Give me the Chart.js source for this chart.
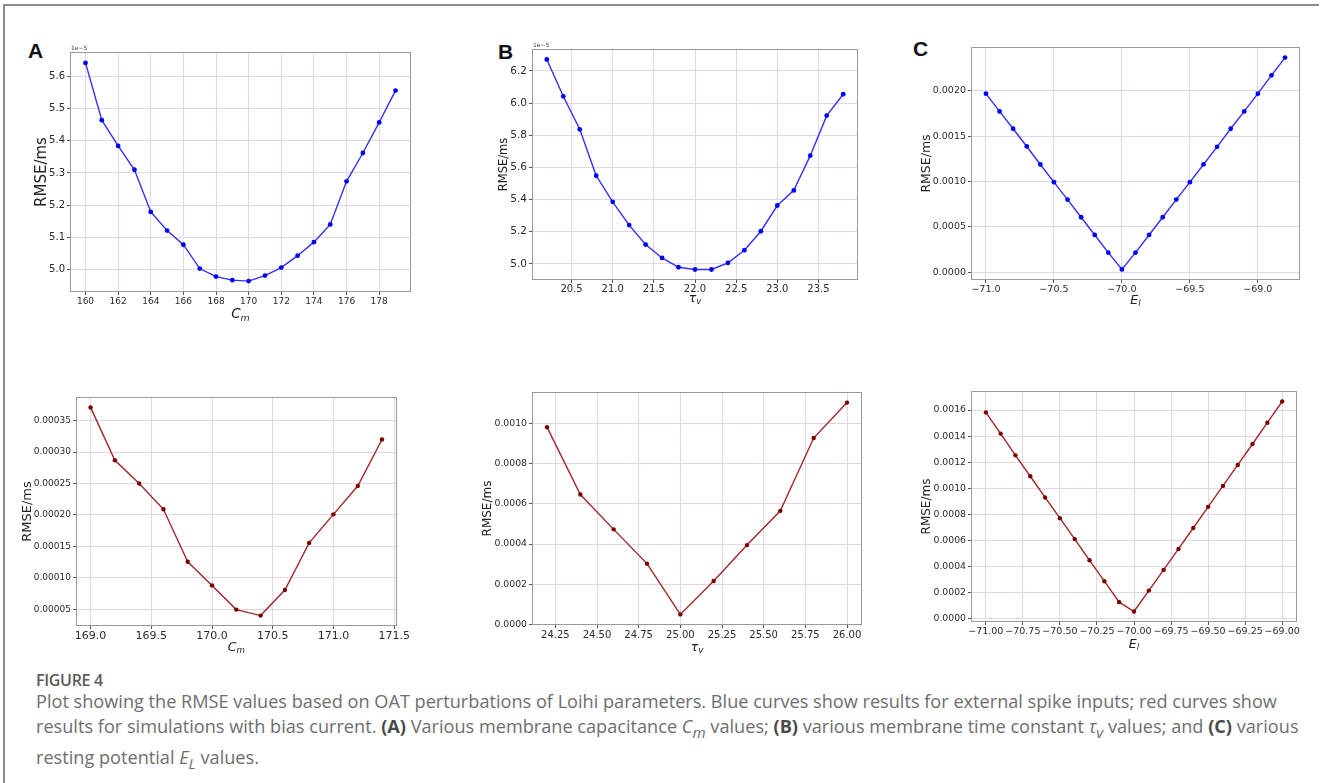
<!DOCTYPE html>
<html>
<head>
<meta charset="utf-8">
<script src="https://cdn.jsdelivr.net/npm/chart.js@4.4.0/dist/chart.umd.min.js"></script>
<style>
  body { margin: 0; width: 1326px; height: 783px; position: relative; overflow: hidden; background: #fff; }
  .frame { position: absolute; left: 3px; top: 4px; width: 1314px; height: 800px; border-top: 2px solid #8c8c8c; border-left: 2px solid #8c8c8c; }
  canvas { position: absolute; }
  .letter { position: absolute; font: bold 21px "Liberation Sans", Arial, sans-serif; line-height: 1; color: #111; }
  .fig { position: absolute; left: 36px; top: 670px; font: 600 16px "Open Sans", sans-serif; color: #5a5a5a; line-height: 20px; letter-spacing: -0.3px; }
  .cap { position: absolute; left: 36px; top: 689px; font: 18.15px "Open Sans", sans-serif; color: #6e6e6e; line-height: 25px; white-space: nowrap; }
  .cap b { color: #4a4a4a; }
</style>
</head>
<body>
<div class="frame"></div>
<div class="letter" style="left:28px;top:40px">A</div>
<div class="letter" style="left:498px;top:41px">B</div>
<div class="letter" style="left:913px;top:38px">C</div>

<canvas id="topCm"></canvas>
<canvas id="topTau"></canvas>
<canvas id="topEl"></canvas>
<canvas id="botCm"></canvas>
<canvas id="botTau"></canvas>
<canvas id="botEl"></canvas>

<div class="fig">FIGURE 4</div>
<div class="cap">Plot showing the RMSE values based on OAT perturbations of Loihi parameters. Blue curves show results for external spike inputs; red curves show<br>results for simulations with bias current. <b>(A)</b> Various membrane capacitance <i>C<sub>m</sub></i> values; <b>(B)</b> various membrane time constant <i>τ<sub>v</sub></i> values; and <b>(C)</b> various<br>resting potential <i>E<sub>L</sub></i> values.</div>

<script>
// --- top row : external spike inputs (blue) ---
// C_m, RMSE in units of 1e-5
const cmTopX = [160, 161, 162, 163, 164, 165, 166, 167, 168, 169, 170, 171, 172, 173, 174, 175, 176, 177, 178, 179];
const cmTopRmse = [5.642, 5.464, 5.384, 5.310, 5.179, 5.121, 5.077, 5.003, 4.978, 4.967, 4.964, 4.981, 5.006, 5.043, 5.085, 5.140, 5.274, 5.362, 5.457, 5.556];
const cmTopXTicks = [160, 162, 164, 166, 168, 170, 172, 174, 176, 178];
const cmTopYTicks = [5.0, 5.1, 5.2, 5.3, 5.4, 5.5, 5.6];

// tau_v, RMSE in units of 1e-5
const tauTopX = [20.2, 20.4, 20.6, 20.8, 21.0, 21.2, 21.4, 21.6, 21.8, 22.0, 22.2, 22.4, 22.6, 22.8, 23.0, 23.2, 23.4, 23.6, 23.8];
const tauTopRmse = [6.271, 6.042, 5.837, 5.548, 5.386, 5.241, 5.120, 5.037, 4.979, 4.965, 4.965, 5.006, 5.085, 5.203, 5.363, 5.457, 5.673, 5.922, 6.055];
const tauTopXTicks = [20.5, 21.0, 21.5, 22.0, 22.5, 23.0, 23.5];
const tauTopYTicks = [5.0, 5.2, 5.4, 5.6, 5.8, 6.0, 6.2];

// E_l
const elTopX = [-71.0, -70.9, -70.8, -70.7, -70.6, -70.5, -70.4, -70.3, -70.2, -70.1, -70.0, -69.9, -69.8, -69.7, -69.6, -69.5, -69.4, -69.3, -69.2, -69.1, -69.0, -68.9, -68.8];
const elTopRmse = [0.001967, 0.001772, 0.001581, 0.001386, 0.001188, 0.000993, 0.000801, 0.000607, 0.000412, 0.000217, 0.000033, 0.000217, 0.000412, 0.000607, 0.000801, 0.000993, 0.001188, 0.001382, 0.001581, 0.001772, 0.001967, 0.002169, 0.002364];
const elTopXTicks = [-71.0, -70.5, -70.0, -69.5, -69.0];
const elTopYTicks = [0, 0.0005, 0.0010, 0.0015, 0.0020];

// --- bottom row : bias current (red) ---
const cmBotX = [169.0, 169.2, 169.4, 169.6, 169.8, 170.0, 170.2, 170.4, 170.6, 170.8, 171.0, 171.2, 171.4];
const cmBotRmse = [0.000371, 0.000287, 0.000250, 0.000209, 0.0001255, 0.000088, 0.0000495, 0.000040, 0.0000806, 0.0001556, 0.000201, 0.000246, 0.000320];
const cmBotXTicks = [169.0, 169.5, 170.0, 170.5, 171.0, 171.5];
const cmBotYTicks = [0.00005, 0.00010, 0.00015, 0.00020, 0.00025, 0.00030, 0.00035];

const tauBotX = [24.2, 24.4, 24.6, 24.8, 25.0, 25.2, 25.4, 25.6, 25.8, 26.0];
const tauBotRmse = [0.000980, 0.000646, 0.000473, 0.000303, 0.0000511, 0.000217, 0.000395, 0.000565, 0.000926, 0.001102];
const tauBotXTicks = [24.25, 24.50, 24.75, 25.00, 25.25, 25.50, 25.75, 26.00];
const tauBotYTicks = [0, 0.0002, 0.0004, 0.0006, 0.0008, 0.0010];

const elBotX = [-71.0, -70.9, -70.8, -70.7, -70.6, -70.5, -70.4, -70.3, -70.2, -70.1, -70.0, -69.9, -69.8, -69.7, -69.6, -69.5, -69.4, -69.3, -69.2, -69.1, -69.0];
const elBotRmse = [0.001582, 0.001419, 0.001252, 0.001091, 0.000928, 0.000769, 0.000608, 0.000445, 0.000284, 0.000123, 0.0000511, 0.000212, 0.000371, 0.000532, 0.000693, 0.000856, 0.001017, 0.001178, 0.001339, 0.001503, 0.001666];
const elBotXTicks = [-71.00, -70.75, -70.50, -70.25, -70.00, -69.75, -69.50, -69.25, -69.00];
const elBotYTicks = [0, 0.0002, 0.0004, 0.0006, 0.0008, 0.0010, 0.0012, 0.0014, 0.0016];

const BLUE = { line: '#3030ff', point: '#0000ff' };
const RED = { line: '#a02828', point: '#7a0000' };

const PAD_L = 75, PAD_T = 14, PAD_R = 12, PAD_B = 40;
const TICK_LEN = 3, Y_PAD = 2;
const FONT = '"DejaVu Sans", sans-serif';

// number like matplotlib, with a real minus sign
function fmt(v, dec) {
  return v.toFixed(dec).replace('-', '\u2212');
}

// frame, axis titles (with subscript) and the 1e-5 offset
const decor = {
  id: 'decor',
  afterDraw(chart, args, o) {
    const ctx = chart.ctx;
    const a = chart.chartArea;
    ctx.save();
    ctx.strokeStyle = '#9a9a9a';
    ctx.lineWidth = 1;
    ctx.strokeRect(Math.round(a.left) + 0.5, Math.round(a.top) + 0.5, Math.round(a.right - a.left) - 1, Math.round(a.bottom - a.top) - 1);

    // y title sits just left of the widest tick label
    const ys = chart.scales.y;
    ctx.font = ys.options.ticks.font.size + 'px ' + FONT;
    let maxW = 0;
    ys.ticks.forEach(t => { maxW = Math.max(maxW, ctx.measureText(t.label).width); });
    const baseX = a.left - TICK_LEN - Y_PAD - maxW - o.yGap;

    ctx.fillStyle = '#222';
    ctx.save();
    ctx.font = o.ySize + 'px ' + FONT;
    ctx.textAlign = 'center';
    ctx.textBaseline = 'alphabetic';
    ctx.translate(baseX, (a.top + a.bottom) / 2);
    ctx.rotate(-Math.PI / 2);
    ctx.fillText('RMSE/ms', 0, 0);
    ctx.restore();

    ctx.textAlign = 'left';
    ctx.textBaseline = 'alphabetic';
    const big = 'italic ' + o.xSize + 'px ' + FONT;
    const small = 'italic ' + (o.xSize * 0.7) + 'px ' + FONT;
    ctx.font = big;
    const wb = ctx.measureText(o.xBase).width;
    ctx.font = small;
    const ws = ctx.measureText(o.xSub).width;
    const x0 = (a.left + a.right) / 2 - (wb + ws) / 2;
    const base = a.bottom + o.xOff + o.xSize * 0.36;
    ctx.font = big;
    ctx.fillText(o.xBase, x0, base);
    ctx.font = small;
    ctx.fillText(o.xSub, x0 + wb, base + o.xSize * 0.22);

    if (o.offset) {
      ctx.fillStyle = '#444';
      ctx.font = o.offsetSize + 'px ' + FONT;
      ctx.fillText(o.offset, a.left + 1, a.top - 2);
    }
    ctx.restore();
  }
};

function padRange(vals) {
  const lo = Math.min(...vals), hi = Math.max(...vals);
  const m = (hi - lo) * 0.05;
  return [lo - m, hi + m];
}

function makePanel(id, rect, xs, ys, xTicks, xDec, yTicks, yDec, colors, p) {
  const canvas = document.getElementById(id);
  canvas.width = rect.R - rect.L + PAD_L + PAD_R;
  canvas.height = rect.B - rect.T + PAD_T + PAD_B;
  canvas.style.left = (rect.L - PAD_L) + 'px';
  canvas.style.top = (rect.T - PAD_T) + 'px';

  const xr = padRange(xs), yr = padRange(ys);
  const grid = { color: '#e3d6e6', lineWidth: 1, tickLength: TICK_LEN, tickColor: '#555' };

  return new Chart(canvas.getContext('2d'), {
    type: 'scatter',
    data: {
      datasets: [{
        data: xs.map((x, i) => ({ x: x, y: ys[i] })),
        showLine: true,
        borderColor: colors.line,
        borderWidth: 1.4,
        backgroundColor: colors.point,
        pointBackgroundColor: colors.point,
        pointBorderWidth: 0,
        pointRadius: p.r,
      }]
    },
    plugins: [decor],
    options: {
      responsive: false,
      animation: false,
      layout: { padding: { top: PAD_T, right: PAD_R, left: 0, bottom: 0 } },
      scales: {
        x: {
          type: 'linear',
          min: xr[0], max: xr[1],
          grid: grid,
          border: { display: false },
          afterBuildTicks: s => { s.ticks = xTicks.map(v => ({ value: v })); },
          afterFit: s => { s.height = PAD_B; },
          ticks: {
            autoSkip: false, maxRotation: 0, padding: p.xPad,
            color: '#2a2a2a', font: { family: FONT, size: p.xTick },
            callback: v => fmt(v, xDec)
          }
        },
        y: {
          type: 'linear',
          min: yr[0], max: yr[1],
          grid: grid,
          border: { display: false },
          afterBuildTicks: s => { s.ticks = yTicks.map(v => ({ value: v })); },
          afterFit: s => { s.width = PAD_L; },
          ticks: {
            autoSkip: false, padding: Y_PAD,
            color: '#2a2a2a', font: { family: FONT, size: p.yTick },
            callback: v => fmt(v, yDec)
          }
        }
      },
      plugins: {
        legend: { display: false },
        tooltip: { enabled: false },
        decor: {
          ySize: p.ySize, yGap: 3,
          xBase: p.xBase, xSub: p.xSub, xSize: p.xSize, xOff: p.xOff,
          offset: p.offset, offsetSize: 6
        }
      }
    }
  });
}

makePanel('topCm', { L: 70, T: 52, R: 411, B: 292 }, cmTopX, cmTopRmse, cmTopXTicks, 0, cmTopYTicks, 1, BLUE,
  { r: 2.4, xTick: 9, yTick: 10, xPad: 1, ySize: 15, xBase: 'C', xSub: 'm', xSize: 13.5, xOff: 21, offset: '1e\u22125' });
makePanel('topTau', { L: 532, T: 49, R: 858, B: 280 }, tauTopX, tauTopRmse, tauTopXTicks, 1, tauTopYTicks, 1, BLUE,
  { r: 2.4, xTick: 10, yTick: 10.5, xPad: 0, ySize: 11.5, xBase: '\u03c4', xSub: 'v', xSize: 12.5, xOff: 17, offset: '1e\u22125' });
makePanel('topEl', { L: 971, T: 47, R: 1300, B: 280 }, elTopX, elTopRmse, elTopXTicks, 1, elTopYTicks, 4, BLUE,
  { r: 2.4, xTick: 9.5, yTick: 9.5, xPad: 1, ySize: 12.5, xBase: 'E', xSub: 'l', xSize: 12.5, xOff: 19 });
makePanel('botCm', { L: 76, T: 397, R: 399, B: 626 }, cmBotX, cmBotRmse, cmBotXTicks, 1, cmBotYTicks, 5, RED,
  { r: 2.2, xTick: 11, yTick: 9, xPad: 1, ySize: 13, xBase: 'C', xSub: 'm', xSize: 12.5, xOff: 20 });
makePanel('botTau', { L: 532, T: 392, R: 862, B: 625 }, tauBotX, tauBotRmse, tauBotXTicks, 2, tauBotYTicks, 4, RED,
  { r: 2.2, xTick: 10, yTick: 9.3, xPad: 1, ySize: 12, xBase: '\u03c4', xSub: 'v', xSize: 12.5, xOff: 21 });
makePanel('botEl', { L: 971, T: 391, R: 1297, B: 622 }, elBotX, elBotRmse, elBotXTicks, 2, elBotYTicks, 4, RED,
  { r: 2.2, xTick: 9.5, yTick: 9.3, xPad: 1, ySize: 12, xBase: 'E', xSub: 'l', xSize: 12.5, xOff: 21 });
</script>
</body>
</html>
